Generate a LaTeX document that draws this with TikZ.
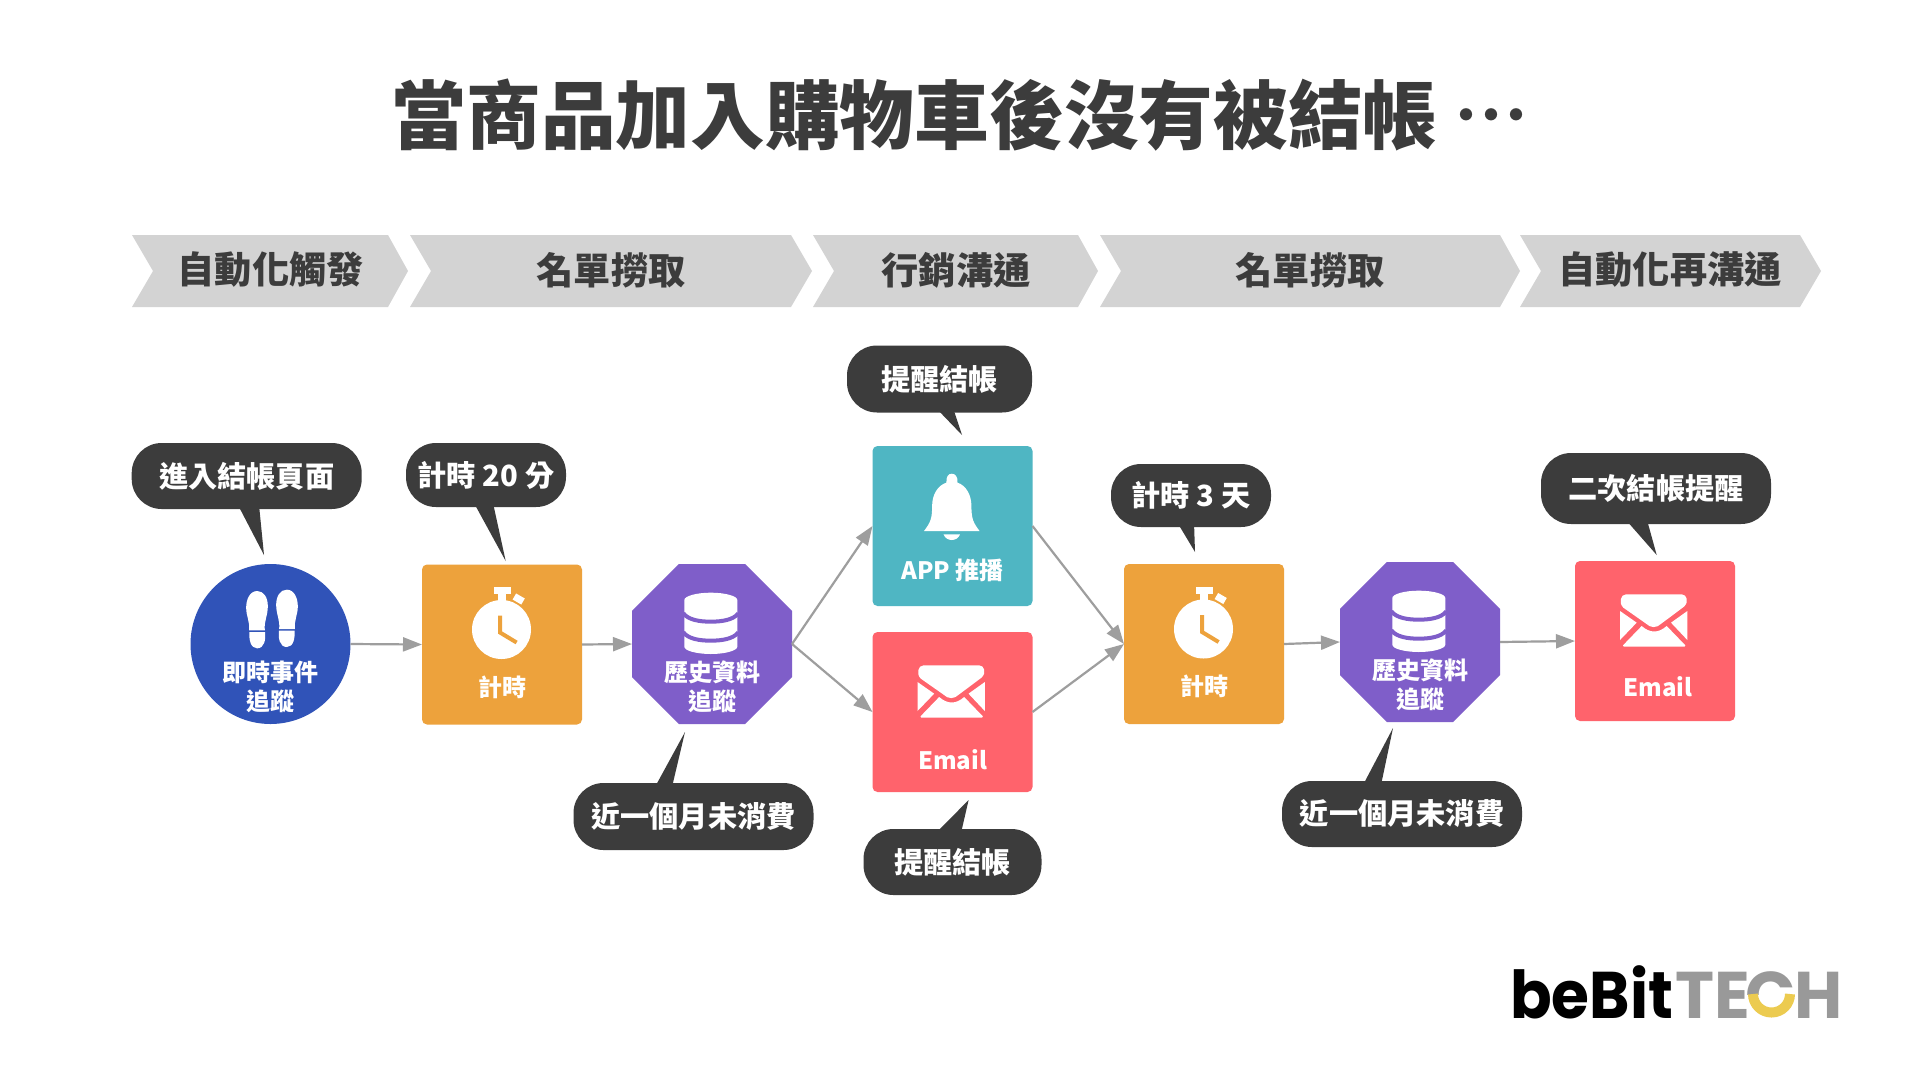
\documentclass[tikz,border=0pt]{standalone}
\usepackage{fontspec}
\usepackage{graphicx}
\setmainfont{Noto Sans CJK TC}
\newfontfamily\logofont{Poppins}
\usetikzlibrary{arrows.meta,shapes.geometric}
\definecolor{inkdark}{HTML}{3C3C3C}
\definecolor{chevgray}{HTML}{D3D3D3}
\definecolor{cblue}{HTML}{3053B8}
\definecolor{corange}{HTML}{EDA23C}
\definecolor{cpurple}{HTML}{7F5EC9}
\definecolor{cteal}{HTML}{4FB6C3}
\definecolor{cred}{HTML}{FF636C}
\definecolor{arrowgray}{HTML}{9E9E9E}
\definecolor{logogray}{HTML}{999999}
\definecolor{logoyellow}{HTML}{ECCB50}
\tikzset{
  x=1pt,y=-1pt,
  bubble/.style={fill=inkdark,text=white,font=\bfseries\fontsize{29.2}{34}\selectfont,rounded corners=30pt,inner sep=0pt,outer sep=0pt},
  chevtext/.style={text=inkdark,font=\bfseries\fontsize{37.2}{42}\selectfont,inner sep=0pt},
  nodelabel/.style={text=white,font=\bfseries\fontsize{24}{29}\selectfont,inner sep=0pt},
  boxnode/.style={minimum width=160pt,minimum height=160pt,rounded corners=5pt,inner sep=0pt,outer sep=0pt},
  octnode/.style={regular polygon,regular polygon sides=8,minimum size=173.2pt,inner sep=0pt,outer sep=0pt,fill=cpurple},
  flow/.style={draw=arrowgray,line width=2.2pt,-{Triangle[length=19pt,width=14pt]}},
  logotech/.style={font=\logofont\bfseries\fontsize{66}{70}\selectfont,inner sep=0pt,anchor=base west},
  pics/iconclock/.style={code={
    \fill[white] (-0.5,-15) circle[radius=29.5pt];
    \fill[white] (-8,-57.3) rectangle (8.5,-50.3);
    \fill[white] (-4,-51) rectangle (4,-43);
    \fill[white,shift={(16.7,-45.5)},rotate=-30] (-5,-3.5) rectangle (5,3.5);
    \draw[corange,line width=4pt] (-2,-29) -- (-2,-12) -- (14.6,-2);
  }},
  pics/icondb/.style={code={
    \begin{scope}[shift={(-62,-74)},scale=1/3]
    \fill[white] (103,90) .. controls (103,78) and (140,68) .. (182.5,68) .. controls (225,68) and (262,78) .. (262,90) -- (262,230) .. controls (262,242) and (225,252) .. (182.5,252) .. controls (140,252) and (103,242) .. (103,230) -- cycle;
    \draw[cpurple,line width=4pt] (100,130) .. controls (115,150) and (150,155) .. (182,155) .. controls (215,155) and (250,150) .. (265,130);
    \draw[cpurple,line width=4pt] (100,187) .. controls (115,207) and (150,212) .. (182,212) .. controls (215,212) and (250,207) .. (265,187);
    \end{scope}
  }},
  pics/iconmail/.style={code={
    \begin{scope}[shift={(-155,-201)},scale=1/3]
    \fill[white] (378,463) -- (545,463) .. controls (560,463) and (568,485) .. (552,500) -- (485,550) .. controls (470,565) and (452,565) .. (437,550) -- (370,503) .. controls (355,488) and (362,463) .. (378,463) -- cycle;
    \fill[white] (360,513) -- (410,548) -- (360,600) -- cycle;
    \fill[white] (562,513) -- (513,548) -- (562,600) -- cycle;
    \fill[white] (369,616) -- (425,558) .. controls (450,580) and (475,580) .. (500,558) -- (556,616) .. controls (556,620) and (552,620) .. (550,620) -- (375,620) .. controls (372,620) and (369,620) .. (369,616) -- cycle;
    \end{scope}
  }},
  pics/iconbell/.style={code={
    \begin{scope}[shift={(-152.5,-196)},xscale=1/2.8,yscale=1/2.7]
    \fill[white] (425,388) .. controls (415,388) and (409,396) .. (410,412) .. controls (385,420) and (370,445) .. (370,475) .. controls (370,510) and (365,520) .. (347,543) -- (503,543) .. controls (485,520) and (480,510) .. (480,475) .. controls (480,445) and (465,420) .. (441,412) .. controls (442,396) and (435,388) .. (425,388) -- cycle;
    \fill[white] (402,552) -- (448,552) .. controls (440,572) and (410,572) .. (402,552) -- cycle;
    \end{scope}
  }},
  pics/iconfeet/.style={code={
    \begin{scope}[shift={(-60,-73)},scale=1/3]
    \foreach \mirrored/\xs/\dx/\dy in {0/1/0/0,1/-1/369/-4}{
      \begin{scope}[shift={(\dx,\dy)},xscale=\xs]
      \fill[white] (140,60) .. controls (118,60) and (107,85) .. (107,110) .. controls (107,135) and (118,150) .. (116,178) -- (163,178) .. controls (160,150) and (172,135) .. (172,105) .. controls (172,80) and (160,60) .. (140,60) -- cycle;
      \fill[white] (117,183) -- (164,183) .. controls (166,205) and (162,232) .. (140,232) .. controls (120,232) and (115,205) .. (117,183) -- cycle;
      \end{scope}
    }
    \end{scope}
  }},
}
\begin{document}
\begin{tikzpicture}
\useasboundingbox (0,0) rectangle (1920,1080);
\fill[white] (0,0) rectangle (1920,1080);
% title
\node[text=inkdark,font=\bfseries\fontsize{74.7}{80}\selectfont,inner sep=0pt,anchor=west] (title) at (391.5,115) {當商品加入購物車後沒有被結帳};
\node[text=inkdark,font=\bfseries\fontsize{44}{48}\selectfont,inner sep=0pt] (titledots) at (1491.3,120.5) {·\kern-19.3pt·\kern-19.3pt·};
% chevrons
\fill[chevgray] (132,235) -- (388,235) -- (408,271) -- (388,307) -- (132,307) -- (153,271) -- cycle;
\fill[chevgray] (410,235) -- (791,235) -- (812,271) -- (791,307) -- (410,307) -- (431,271) -- cycle;
\fill[chevgray] (813,235) -- (1078,235) -- (1098,271) -- (1078,307) -- (813,307) -- (834,271) -- cycle;
\fill[chevgray] (1100,235) -- (1500,235) -- (1520,271) -- (1500,307) -- (1100,307) -- (1121,271) -- cycle;
\fill[chevgray] (1520,235) -- (1800,235) -- (1821,271) -- (1800,307) -- (1520,307) -- (1541,271) -- cycle;
\node[chevtext] (h1) at (270.6,270) {自動化觸發};
\node[chevtext] (h2) at (611,270) {名單撈取};
\node[chevtext] (h3) at (956,270) {行銷溝通};
\node[chevtext] (h4) at (1310,270) {名單撈取};
\node[chevtext] (h5) at (1670,270) {自動化再溝通};
% main nodes
\node[circle,fill=cblue,minimum size=160pt,inner sep=0pt,outer sep=0pt] (trigger) at (270.5,644) {};
\node[boxnode,fill=corange] (timerA) at (502,644.5) {};
\node[octnode] (histA) at (712,644) {};
\node[boxnode,fill=cteal] (push) at (952.5,526) {};
\node[boxnode,fill=cred] (mailA) at (952.5,712) {};
\node[boxnode,fill=corange] (timerB) at (1204,644) {};
\node[octnode] (histB) at (1420,642) {};
\node[boxnode,fill=cred] (mailB) at (1655,641) {};
% icons
\pic at (trigger.center) {iconfeet};
\pic at (timerA.center) {iconclock};
\pic at (timerB.center) {iconclock};
\pic at (histA.center) {icondb};
\pic at (histB.center) {icondb};
\pic at (push.center) {iconbell};
\pic at (mailA.center) {iconmail};
\pic at (mailB.center) {iconmail};
% labels
\node[nodelabel] (l1a) at (270.5,672.7) {即時事件};
\node[nodelabel] (l1b) at (270.5,701.7) {追蹤};
\node[nodelabel] (l2) at (502,687) {計時};
\node[nodelabel] (l3a) at (712,672.7) {歷史資料};
\node[nodelabel] (l3b) at (712,701.7) {追蹤};
\node[nodelabel] (l4) at (952.5,570) {APP 推播};
\node[nodelabel] (l5) at (952.5,760) {Email};
\node[nodelabel] (l6) at (1204,686) {計時};
\node[nodelabel] (l7a) at (1420,670.7) {歷史資料};
\node[nodelabel] (l7b) at (1420,699.7) {追蹤};
\node[nodelabel] (l8) at (1658,687) {Email};
% connectors
\draw[flow] (trigger.east) -- (timerA.west);
\draw[flow] (timerA.east) -- (histA.west);
\draw[flow] (histA.east) -- (push.west);
\draw[flow] (histA.east) -- (mailA.west);
\draw[flow] (push.east) -- (timerB.west);
\draw[flow] (mailA.east) -- (timerB.west);
\draw[flow] (timerB.east) -- (histB.west);
\draw[flow] (histB.east) -- (mailB.west);
% bubble tails
\fill[inkdark] (238,505) -- (259,505) -- (264,555) -- cycle;
\fill[inkdark] (474,503) -- (493,503) -- (505.7,561) -- cycle;
\fill[inkdark] (655,787) -- (672,787) -- (685,732) -- cycle;
\fill[inkdark] (936,408) -- (953,408) -- (962,435) -- cycle;
\fill[inkdark] (936,833) -- (961,833) -- (968.6,800) -- cycle;
\fill[inkdark] (1177,522) -- (1194,522) -- (1195,552) -- cycle;
\fill[inkdark] (1363,785) -- (1381,785) -- (1393,728) -- cycle;
\fill[inkdark] (1626,520) -- (1647,520) -- (1656.7,555) -- cycle;
% bubbles
\node[bubble,minimum width=230pt,minimum height=66pt] (b1) at (246.7,476) {進入結帳頁面};
\node[bubble,minimum width=160pt,minimum height=64pt] (b2) at (486,475) {計時 20 分};
\node[bubble,minimum width=240pt,minimum height=67pt] (b3) at (693.5,816.5) {近一個月未消費};
\node[bubble,minimum width=185pt,minimum height=67pt] (b4) at (939.5,379) {提醒結帳};
\node[bubble,minimum width=178pt,minimum height=66pt] (b5) at (952.5,862) {提醒結帳};
\node[bubble,minimum width=160pt,minimum height=63pt] (b6) at (1191,495.5) {計時 3 天};
\node[bubble,minimum width=240pt,minimum height=66pt] (b7) at (1402,814) {近一個月未消費};
\node[bubble,minimum width=230pt,minimum height=71pt] (b8) at (1656,488.5) {二次結帳提醒};
% logo
\node[logotech,text=black] (logoA) at (1510,1018) {\scalebox{0.93}[1]{beBit}};
\node[logotech,text=logogray] (logoT) at (1675,1018) {T};
\node[logotech,text=logogray] (logoE) at (1714,1018) {E};
\begin{scope}
\clip (1745,960) rectangle (1800,994);
\node[logotech,text=logogray] (logoC) at (1745,1018) {C};
\end{scope}
\draw[logoyellow,line width=10pt] (1753,994) arc[start angle=180,end angle=360,radius=18.5pt];
\node[logotech,text=logogray] (logoH) at (1794,1018) {H};
\end{tikzpicture}
\end{document}
